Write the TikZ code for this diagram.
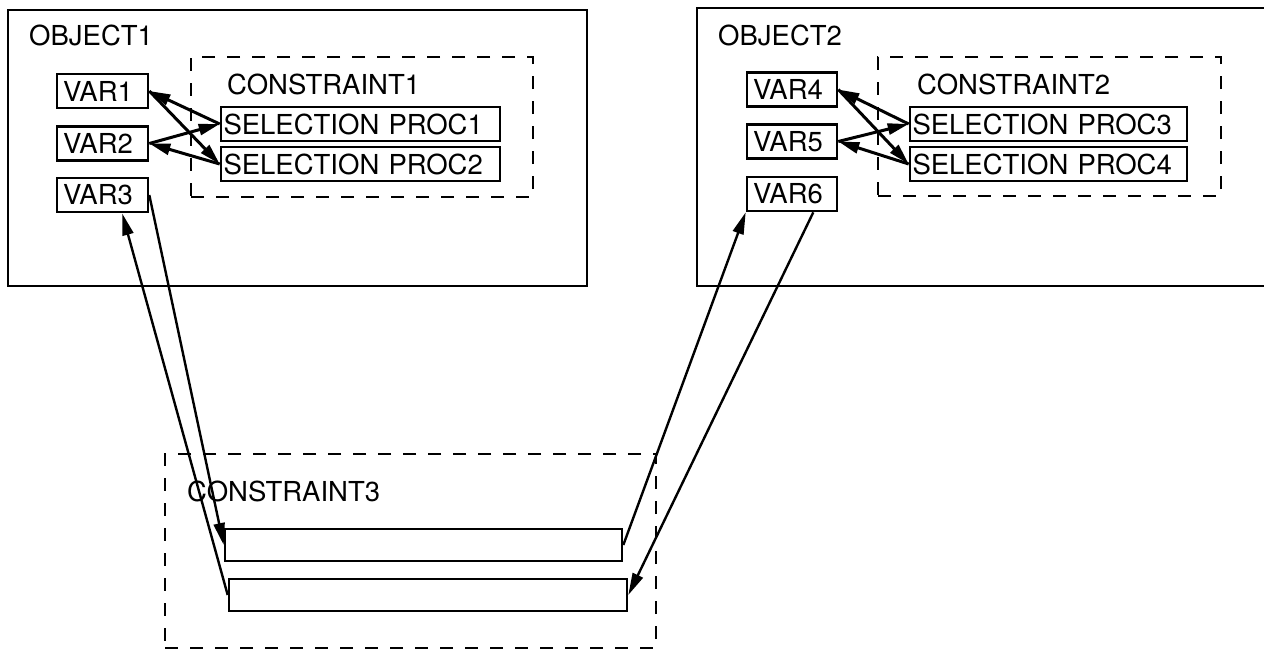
\documentclass[tikz,border=0pt]{standalone}
\usepackage{fontspec}
\setmainfont{TeX Gyre Heros}
\usetikzlibrary{arrows.meta,calc}
\begin{document}
\begin{tikzpicture}[x=1pt,y=-1pt,
  every node/.style={font=\fontsize{27.5}{33}\selectfont},
  frame/.style={draw, line width=2.6pt, inner sep=0pt},
  cbox/.style={draw, line width=2.4pt, dash pattern=on 13pt off 12pt, inner sep=0pt},
  varbox/.style={draw, line width=2.6pt, minimum height=34pt, text width=79pt, inner xsep=6pt, inner ysep=0pt, align=left},
  selbox/.style={draw, line width=2.6pt, minimum height=34pt, text width=274pt, inner xsep=2.5pt, inner ysep=0pt, align=left},
  slot/.style={draw, line width=2.6pt, inner sep=0pt, minimum height=32pt},
  lbl/.style={anchor=west, inner sep=0pt},
  link/.style={line width=3pt, -{Triangle[length=21pt,width=11pt]}},
  longlink/.style={line width=2.4pt, -{Triangle[length=22pt,width=11pt]}},
]
\useasboundingbox (0,0) rectangle (1264,651);
\clip (0,0) rectangle (1264,651);

% OBJECT1
\node[frame, minimum width=579pt, minimum height=276pt] (obj1) at (297.5,148) {};
\node[lbl] (obj1lbl) at (29,35.5) {OBJECT1};
\node[cbox, minimum width=342pt, minimum height=140pt] (c1) at (362,127) {};
\node[lbl] (c1lbl) at (227,84) {CONSTRAINT1};
\node[selbox] (sel1) at (360.5,124) {SELECTION PROC1};
\node[selbox] (sel2) at (360.5,164) {SELECTION PROC2};
\node[varbox] (var1) at (102.5,91) {VAR1};
\node[varbox] (var2) at (102.5,143.5) {VAR2};
\node[varbox] (var3) at (102.5,195) {VAR3};

% OBJECT2
\node[frame, minimum width=590pt, minimum height=278pt] (obj2) at (992,147) {};
\node[lbl] (obj2lbl) at (718,35) {OBJECT2};
\node[cbox, minimum width=343pt, minimum height=139pt] (c2) at (1049.5,126.5) {};
\node[lbl] (c2lbl) at (917,84) {CONSTRAINT2};
\node[selbox, text width=272pt] (sel3) at (1048.5,124) {SELECTION PROC3};
\node[selbox, text width=272pt] (sel4) at (1048.5,164) {SELECTION PROC4};
\node[varbox, text width=78pt] (var4) at (792,89.5) {VAR4};
\node[varbox, text width=78pt] (var5) at (792,141.5) {VAR5};
\node[varbox, text width=78pt] (var6) at (792,194) {VAR6};

% CONSTRAINT3
\node[cbox, minimum width=491pt, minimum height=194pt] (c3) at (410.5,551) {};
\node[lbl] (c3lbl) at (187,491) {CONSTRAINT3};
\node[slot, minimum width=397pt] (row1) at (423.5,545) {};
\node[slot, minimum width=398pt] (row2) at (428,595) {};

% links inside OBJECT1
\draw[link] (sel1.west) -- (var1.east);
\draw[link] (var1.east) -- (sel2.west);
\draw[link] (var2.east) -- (sel1.west);
\draw[link] (sel2.west) -- (var2.east);

% links inside OBJECT2
\draw[link] (sel3.west) -- (var4.east);
\draw[link] (var4.east) -- (sel4.west);
\draw[link] (var5.east) -- (sel3.west);
\draw[link] (sel4.west) -- (var5.east);

% links to CONSTRAINT3
\draw[longlink] (var3.east) -- (row1.west);
\draw[longlink] (row2.west) -- ($(var3.south west)!0.71!(var3.south east)$);
\draw[longlink] (row1.east) -- (var6.south west);
\draw[longlink] ($(var6.south west)!0.73!(var6.south east)$) -- (row2.east);
\end{tikzpicture}
\end{document}
